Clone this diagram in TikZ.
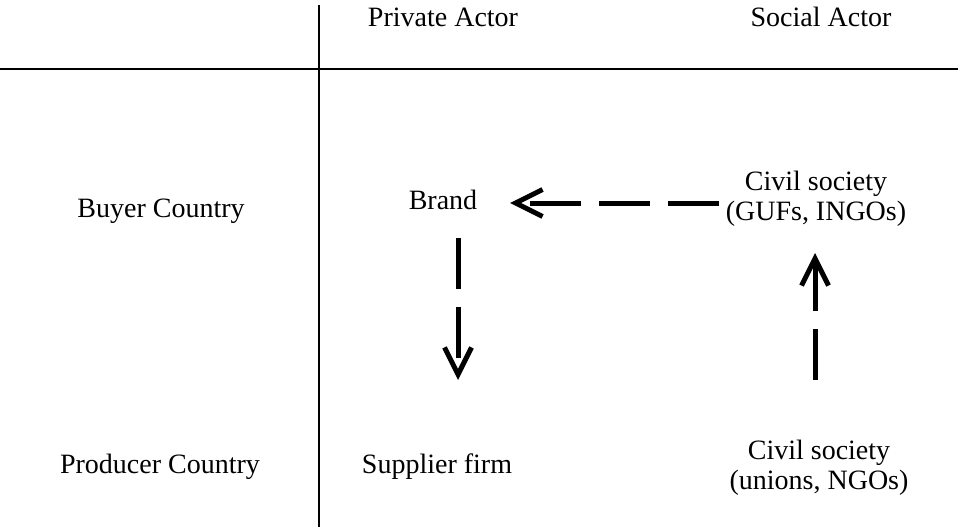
\documentclass[tikz,border=0pt]{standalone}
\usepackage{fontspec}
\setmainfont{Liberation Serif}
\usetikzlibrary{arrows.meta}
\begin{document}
\begin{tikzpicture}[x=1pt,y=-1pt,
  lbl/.style={inner sep=0pt, anchor=base, font=\fontsize{28}{30}\selectfont},
  lbltwo/.style={inner sep=0pt, anchor=base, align=center, font=\fontsize{28}{30}\selectfont},
  rule/.style={line width=2pt},
  flow/.style={line width=5pt, dash pattern=on 51pt off 18pt,
    -{Straight Barb[length=27pt, width=27pt, line width=5pt]}}]
\useasboundingbox (0,0) rectangle (958,527);
% grid lines
\coordinate (vtop) at (319,5);
\coordinate (vbot) at (319,527);
\coordinate (hl) at (0,69);
\coordinate (hr) at (958,69);
\draw[rule] (vtop) -- (vbot);
\draw[rule] (hl) -- (hr);
% headers
\node[lbl] (private) at (443,27) {Private Actor};
\node[lbl] (social) at (821,27) {Social Actor};
\node[lbl] (buyer) at (161,217) {Buyer Country};
\node[lbl] (producer) at (160,473) {Producer Country};
% cells
\node[lbl] (brand) at (443,209) {Brand};
\node[lbl] (supplier) at (437,473) {Supplier firm};
\node[lbltwo] (civtop) at (816,220) {Civil society\\(GUFs, INGOs)};
\node[lbltwo] (civbot) at (819,489) {Civil society\\(unions, NGOs)};
% arrows
\coordinate (a1s) at (719,203);
\coordinate (a1e) at (510,203);
\coordinate (a2s) at (458,238);
\coordinate (a2e) at (458,380);
\coordinate (a3s) at (815,380);
\coordinate (a3e) at (815,253);
\draw[flow] (a1s) -- (a1e);
\draw[flow] (a2s) -- (a2e);
\draw[flow] (a3s) -- (a3e);
\end{tikzpicture}
\end{document}
